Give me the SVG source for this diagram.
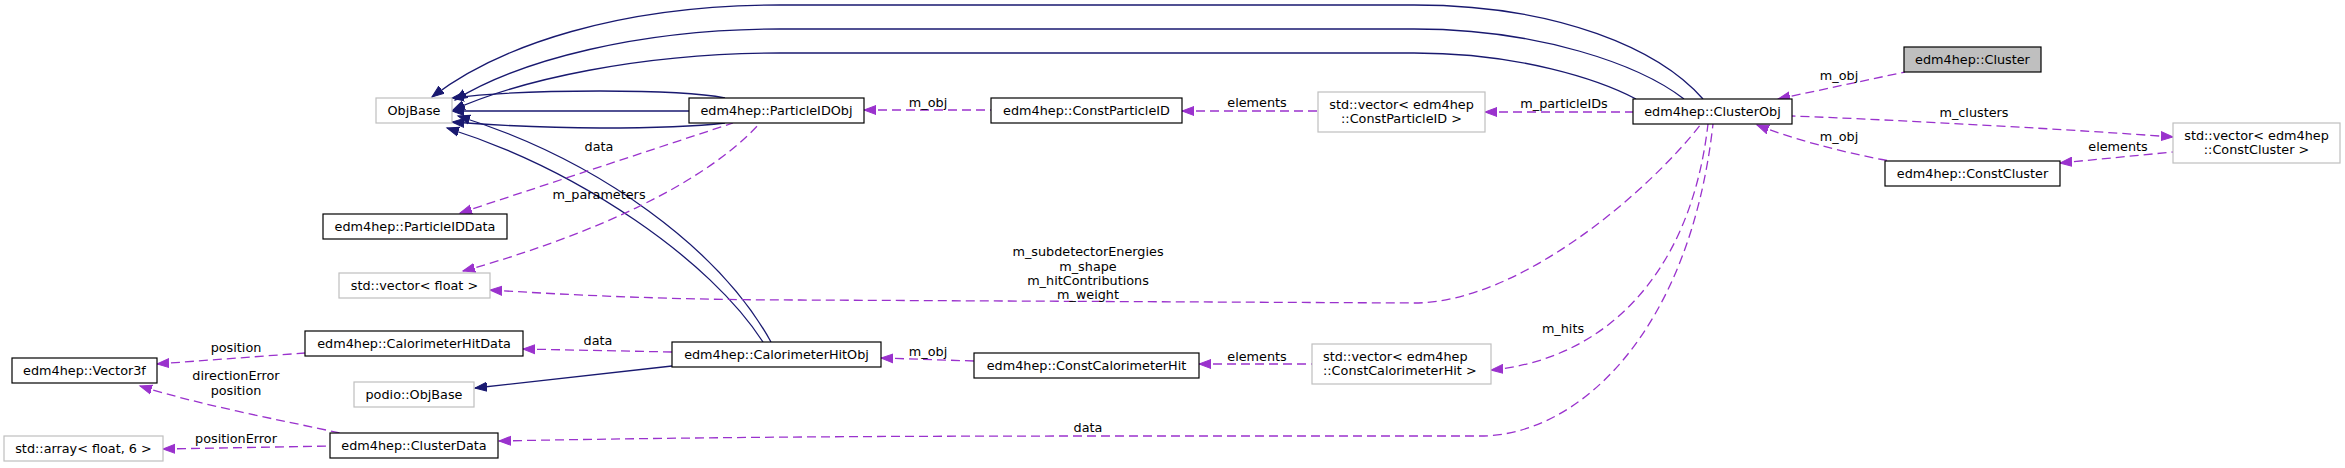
<svg xmlns="http://www.w3.org/2000/svg" width="2345" height="468" viewBox="0 0 2345 468">
<style>
text{font-family:"DejaVu Sans","Liberation Sans",sans-serif;font-size:12.8px;fill:#000}
.n rect{fill:#fff;stroke:#000;stroke-width:1.2}
.g rect{fill:#fff;stroke:#bfbfbf;stroke-width:1.2}
.c rect{fill:#bfbfbf;stroke:#000;stroke-width:1.2}
.m{text-anchor:middle}
.inh{fill:none;stroke:#191970;stroke-width:1.3;marker-start:url(#ab)}
.use{fill:none;stroke:#9a32cd;stroke-width:1.3;stroke-dasharray:9,5;marker-start:url(#ap)}
</style>
<defs>
<marker id="ab" markerUnits="userSpaceOnUse" markerWidth="14" markerHeight="12" refX="12" refY="5" orient="auto-start-reverse" viewBox="0 0 14 10"><path d="M0,0.5 L12,5 L0,9.5 z" fill="#191970" stroke="#191970"/></marker>
<marker id="ap" markerUnits="userSpaceOnUse" markerWidth="14" markerHeight="12" refX="12" refY="5" orient="auto-start-reverse" viewBox="0 0 14 10"><path d="M0,0.5 L12,5 L0,9.5 z" fill="#9a32cd" stroke="#9a32cd"/></marker>
</defs>
<rect width="2345" height="468" fill="#fff"/>
<g id="connectors">
<path class="inh" d="M432,97 C500,45 620,5 780,5 L1414,5 C1560,5 1660,50 1703,99"/>
<path class="inh" d="M455,100 C520,60 640,29 780,29 L1414,29 C1540,29 1640,65 1684,99"/>
<path class="inh" d="M453,110 C520,80 640,53 780,53 L1414,53 C1520,53 1600,80 1636,99"/>
<path class="inh" d="M452,98 C500,92 560,91 600,91 C660,91 700,93 725,98"/>
<path class="inh" d="M452,111 L689,111"/>
<path class="inh" d="M452,122 C520,127 560,128 600,128 C660,128 700,126 725,123"/>
<path class="inh" d="M447,128 C580,170 710,260 763,342"/>
<path class="inh" d="M458,116 C600,160 720,250 771,342"/>
<path class="inh" d="M475,388 L672,366"/>
<path class="use" d="M1778,99 L1905,72"/>
<path class="use" d="M2173,137 C2080,130 1900,120 1792,116"/>
<path class="use" d="M1757,125 C1790,138 1840,152 1890,161"/>
<path class="use" d="M2060,163 L2173,152"/>
<path class="use" d="M1485,112 L1633,112"/>
<path class="use" d="M1182,111 L1318,111"/>
<path class="use" d="M864,110 L991,110"/>
<path class="use" d="M460,213 L733,123"/>
<path class="use" d="M463,271 C540,250 690,200 760,123"/>
<path class="use" d="M490,290 C600,297 700,300 800,300 L1414,303 C1520,303 1650,190 1701,124"/>
<path class="use" d="M1491,370 C1600,360 1690,280 1708,124"/>
<path class="use" d="M499,441 C700,437 900,436 1100,436 L1480,436 C1580,436 1690,330 1713,124"/>
<path class="use" d="M523,349 L672,352"/>
<path class="use" d="M881,358 L974,361"/>
<path class="use" d="M1199,364 L1312,364"/>
<path class="use" d="M157,364 L305,353"/>
<path class="use" d="M140,386 C200,405 280,420 340,433"/>
<path class="use" d="M163,449 L330,446"/>
<g id="labels">
<text class="m" x="1839" y="80">m_obj</text>
<text class="m" x="1974" y="117">m_clusters</text>
<text class="m" x="1839" y="141">m_obj</text>
<text class="m" x="2118" y="151">elements</text>
<text class="m" x="1564" y="108">m_particleIDs</text>
<text class="m" x="1257" y="107">elements</text>
<text class="m" x="928" y="107">m_obj</text>
<text class="m" x="599" y="151">data</text>
<text class="m" x="599" y="199">m_parameters</text>
<text class="m" x="1088" y="256">m_subdetectorEnergies</text>
<text class="m" x="1088" y="271">m_shape</text>
<text class="m" x="1088" y="285">m_hitContributions</text>
<text class="m" x="1088" y="299">m_weight</text>
<text class="m" x="1563" y="333">m_hits</text>
<text class="m" x="1088" y="432">data</text>
<text class="m" x="598" y="345">data</text>
<text class="m" x="928" y="356">m_obj</text>
<text class="m" x="1257" y="361">elements</text>
<text class="m" x="236" y="352">position</text>
<text class="m" x="236" y="380">directionError</text>
<text class="m" x="236" y="395">position</text>
<text class="m" x="236" y="443">positionError</text>
</g>
</g>
<g id="node-Cluster" class="c"><rect x="1904" y="47" width="137" height="25"/><text class="m" x="1972.5" y="64">edm4hep::Cluster</text></g>
<g id="node-ClusterObj" class="n"><rect x="1633" y="99" width="159" height="25"/><text class="m" x="1712.5" y="116">edm4hep::ClusterObj</text></g>
<g id="node-ObjBase" class="g"><rect x="376" y="98" width="76" height="25"/><text class="m" x="414" y="115">ObjBase</text></g>
<g id="node-ParticleIDObj" class="n"><rect x="689" y="98" width="175" height="25"/><text class="m" x="776.5" y="115">edm4hep::ParticleIDObj</text></g>
<g id="node-ConstParticleID" class="n"><rect x="991" y="98" width="191" height="25"/><text class="m" x="1086.5" y="115">edm4hep::ConstParticleID</text></g>
<g id="node-VecConstParticleID" class="g"><rect x="1318" y="92" width="167" height="40"/><text class="m" x="1401.5" y="109">std::vector&lt; edm4hep</text><text class="m" x="1401.5" y="123">::ConstParticleID &gt;</text></g>
<g id="node-VecConstCluster" class="g"><rect x="2173" y="123" width="167" height="40"/><text class="m" x="2256.5" y="140">std::vector&lt; edm4hep</text><text class="m" x="2256.5" y="154">::ConstCluster &gt;</text></g>
<g id="node-ConstCluster" class="n"><rect x="1885" y="161" width="175" height="25"/><text class="m" x="1972.5" y="178">edm4hep::ConstCluster</text></g>
<g id="node-ParticleIDData" class="n"><rect x="323" y="214" width="184" height="25"/><text class="m" x="415" y="231">edm4hep::ParticleIDData</text></g>
<g id="node-VecFloat" class="g"><rect x="339" y="273" width="151" height="25"/><text class="m" x="414.5" y="290">std::vector&lt; float &gt;</text></g>
<g id="node-CalorimeterHitData" class="n"><rect x="305" y="331" width="218" height="25"/><text class="m" x="414" y="348">edm4hep::CalorimeterHitData</text></g>
<g id="node-CalorimeterHitObj" class="n"><rect x="672" y="342" width="209" height="25"/><text class="m" x="776.5" y="359">edm4hep::CalorimeterHitObj</text></g>
<g id="node-ConstCalorimeterHit" class="n"><rect x="974" y="353" width="225" height="25"/><text class="m" x="1086.5" y="370">edm4hep::ConstCalorimeterHit</text></g>
<g id="node-VecConstCalorimeterHit" class="g"><rect x="1312" y="344" width="179" height="40"/><text x="1323" y="361">std::vector&lt; edm4hep</text><text x="1323" y="375">::ConstCalorimeterHit &gt;</text></g>
<g id="node-Vector3f" class="n"><rect x="12" y="358" width="145" height="25"/><text class="m" x="84.5" y="375">edm4hep::Vector3f</text></g>
<g id="node-podioObjBase" class="g"><rect x="354" y="382" width="120" height="25"/><text class="m" x="414" y="399">podio::ObjBase</text></g>
<g id="node-ArrayFloat6" class="g"><rect x="4" y="436" width="159" height="25"/><text class="m" x="83.5" y="453">std::array&lt; float, 6 &gt;</text></g>
<g id="node-ClusterData" class="n"><rect x="330" y="433" width="168" height="25"/><text class="m" x="414" y="450">edm4hep::ClusterData</text></g>
</svg>
